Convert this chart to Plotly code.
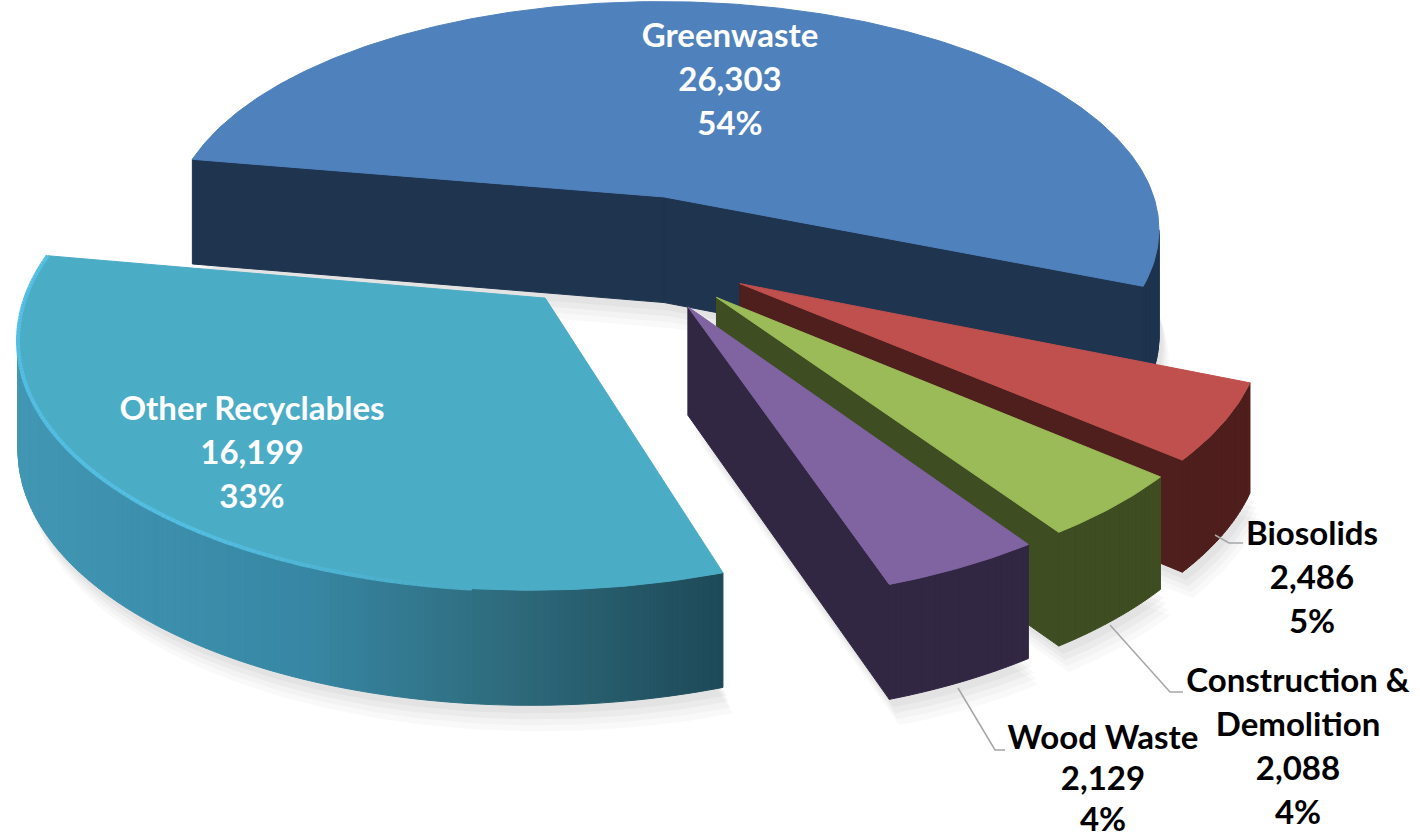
import math
import plotly.graph_objects as go

categories = ["Greenwaste", "Biosolids", "Construction & Demolition", "Wood Waste", "Other Recyclables"]
values = [26303, 2486, 2088, 2129, 16199]
percents = ["54%", "5%", "4%", "4%", "33%"]
label_lines = [["Greenwaste"], ["Biosolids"], ["Construction &", "Demolition"], ["Wood Waste"], ["Other Recyclables"]]
top_colors = ["#4F81BD", "#C0504D", "#9BBB59", "#8064A2", "#4BACC6"]
wall_colors = ["#1F344F", "#4F1F1D", "#3F4D22", "#322743", None]
text_colors = ["white", "black", "black", "black", "white"]
label_x = [730, 1312, 1298, 1103, 252]
label_y = [39, 537, 684, 741, 412]
line_steps = [44, 44, 44, 41, 44]
leaders = [None,
           [(1215, 535), (1229, 543), (1243, 543)],
           [(1110, 625), (1170, 692), (1183, 692)],
           [(958, 688), (995, 750), (1005, 750)],
           None]

START = -80; PULL = 0.25
CX, CY = 630, 252; RX, RY = 506, 237; P = 0.14; H = 107

def proj(u, v):
    s = 1 / (1 + P * v)
    return CX + RX * u * s, CY - RY * v * s, H * s ** 0.4

def mix(stops, t):
    for (t0, c0), (t1, c1) in zip(stops, stops[1:]):
        if t <= t1:
            f = (t - t0) / (t1 - t0)
            return "rgb(%d,%d,%d)" % tuple(c0[i] + (c1[i] - c0[i]) * f for i in range(3))
    return "rgb(%d,%d,%d)" % stops[-1][1]

OTHER_WALL = [(0, (66, 152, 181)), (300, (56, 136, 165)), (500, (47, 108, 126)), (722, (30, 74, 88)), (1420, (30, 74, 88))]
OTHER_RIM = [(0, (84, 190, 226)), (200, (84, 190, 226)), (450, (75, 172, 198)), (1420, (75, 172, 198))]

fig = go.Figure()

def poly(xs, ys, color, line=1):
    fig.add_trace(go.Scatter(x=xs, y=ys, mode="lines", fill="toself", fillcolor=color,
                             line=dict(color=color, width=line), hoverinfo="skip", showlegend=False))

total = sum(values)
angle = START
slices = []
for i, val in enumerate(values):
    span = val / total * 360
    slices.append((i, angle, angle + span))
    angle += span

# soft ground shadow
for dx, dy, a in [(10, 26, 0.025), (8, 20, 0.025), (6, 14, 0.03), (4, 8, 0.03)]:
    for i, a0, a1 in slices:
        mid = math.radians((a0 + a1) / 2)
        ou, ov = PULL * math.sin(mid), PULL * math.cos(mid)
        n = max(6, int(a1 - a0))
        xs, ys = [], []
        for k in range(n + 1):
            t = math.radians(a0 + (a1 - a0) * k / n)
            x, y, h = proj(ou + math.sin(t), ov + math.cos(t))
            xs.append(x + dx); ys.append(y + h + dy)
        x, y, h = proj(ou, ov)
        xs.append(x + dx); ys.append(y + h + dy)
        fig.add_trace(go.Scatter(x=xs, y=ys, mode="lines", fill="toself", fillcolor="rgba(0,0,0,%g)" % a,
                                 line=dict(width=0), hoverinfo="skip", showlegend=False))

for i, a0, a1 in slices:
    mid = math.radians((a0 + a1) / 2)
    ou, ov = PULL * math.sin(mid), PULL * math.cos(mid)
    n = max(8, int((a1 - a0) * 1.5))
    pts = [proj(ou, ov)]
    for k in range(n + 1):
        t = math.radians(a0 + (a1 - a0) * k / n)
        pts.append(proj(ou + math.sin(t), ov + math.cos(t)))
    m = len(pts)
    # walls: edges whose outward side faces the viewer
    xs, ys = [], []
    for j in range(m):
        p, q = pts[j], pts[(j + 1) % m]
        if q[0] < p[0]:
            qx = [p[0], q[0], q[0], p[0], p[0]]
            qy = [p[1], q[1], q[1] + q[2], p[1] + p[2], p[1]]
            if wall_colors[i] is None:
                poly(qx, qy, mix(OTHER_WALL, (p[0] + q[0]) / 2))
            else:
                xs += qx + [None]; ys += qy + [None]
    if xs:
        poly(xs, ys, wall_colors[i])
    # top face
    poly([p[0] for p in pts] + [pts[0][0]], [p[1] for p in pts] + [pts[0][1]], top_colors[i])
    # light rim along the Other Recyclables arc, fading to the right
    if wall_colors[i] is None:
        arc = pts[1:]
        for p, q in zip(arc, arc[1:]):
            if q[0] < 470:
                fig.add_trace(go.Scatter(x=[p[0], q[0]], y=[p[1], q[1]], mode="lines",
                                         line=dict(color=mix(OTHER_RIM, (p[0] + q[0]) / 2), width=4),
                                         hoverinfo="skip", showlegend=False))

for pts in leaders:
    if pts:
        fig.add_trace(go.Scatter(x=[p[0] for p in pts], y=[p[1] for p in pts], mode="lines",
                                 line=dict(color="#A6A6A6", width=1.5), hoverinfo="skip", showlegend=False))

for i in range(len(categories)):
    lines = label_lines[i] + [format(values[i], ","), percents[i]]
    fig.add_trace(go.Scatter(
        x=[label_x[i]] * len(lines),
        y=[label_y[i] + k * line_steps[i] for k in range(len(lines))],
        mode="text", text=lines, textposition="middle center", cliponaxis=False,
        textfont=dict(family="Lato", size=33, color=text_colors[i], weight="bold"),
        hoverinfo="skip", showlegend=False))

fig.update_layout(width=1420, height=840, margin=dict(l=0, r=0, t=0, b=0),
                  paper_bgcolor="white", plot_bgcolor="white", showlegend=False,
                  xaxis=dict(range=[0, 1420], visible=False, fixedrange=True),
                  yaxis=dict(range=[840, 0], visible=False, fixedrange=True))
fig.write_html("out.html", config={"displayModeBar": False},
               post_script="document.body.style.margin='0';document.body.style.overflow='hidden';")
